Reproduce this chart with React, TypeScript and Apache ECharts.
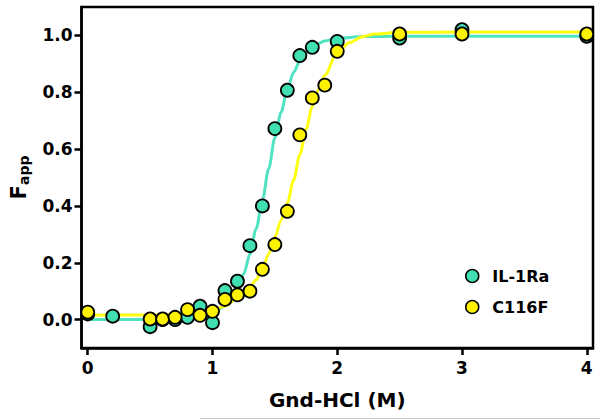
import React, { useEffect, useRef } from "react";
import * as echarts from "echarts";

// Measured points
const ilX = [0, 0.2, 0.5, 0.6, 0.7, 0.8, 0.9, 1.0, 1.1, 1.2, 1.3, 1.4, 1.5, 1.6, 1.7, 1.8, 2.0, 2.5, 3.0, 4.0];
const ilY = [0.02, 0.012, -0.025, 0.0, 0.0, 0.008, 0.047, -0.011, 0.102, 0.135, 0.26, 0.40, 0.672, 0.807, 0.929, 0.958, 0.979, 0.991, 1.02, 0.997];

const cX = [0, 0.5, 0.6, 0.7, 0.8, 0.9, 1.0, 1.1, 1.2, 1.3, 1.4, 1.5, 1.6, 1.7, 1.8, 1.9, 2.0, 2.5, 3.0, 4.0];
const cY = [0.026, 0.002, 0.002, 0.008, 0.035, 0.015, 0.029, 0.071, 0.087, 0.10, 0.177, 0.264, 0.381, 0.65, 0.78, 0.825, 0.944, 1.005, 1.005, 1.005];

// Fitted curves
const ilFitX = [0, 0.5, 0.8, 0.9, 1.0, 1.1, 1.2, 1.25, 1.3, 1.35, 1.4, 1.45, 1.5, 1.55, 1.6, 1.65, 1.7, 1.8, 1.9, 2.0, 2.2, 2.5, 4.0];
const ilFitY = [0.0, 0.0, 0.002, 0.006, 0.02, 0.048, 0.11, 0.16, 0.23, 0.32, 0.42, 0.53, 0.64, 0.73, 0.81, 0.87, 0.91, 0.96, 0.98, 0.99, 0.996, 0.997, 0.997];

const cFitX = [0, 0.5, 0.8, 0.9, 1.0, 1.1, 1.2, 1.3, 1.35, 1.4, 1.45, 1.5, 1.55, 1.6, 1.65, 1.7, 1.75, 1.8, 1.85, 1.9, 2.0, 2.1, 2.2, 2.3, 2.5, 3.0, 4.0];
const cFitY = [0.015, 0.016, 0.02, 0.025, 0.033, 0.048, 0.075, 0.115, 0.14, 0.18, 0.23, 0.29, 0.35, 0.41, 0.49, 0.58, 0.67, 0.75, 0.81, 0.86, 0.94, 0.975, 0.995, 1.005, 1.011, 1.012, 1.012];

const xTicks = [0, 1, 2, 3, 4];
const yTicks = [0, 0.2, 0.4, 0.6, 0.8, 1.0];
const seriesNames = ["IL-1Ra", "C116F"];

const FONT = "DejaVu Sans";
const TEAL_FILL = "#40E0B2";
const TEAL_LINE = "#4FE3C2";
const YEL_FILL = "#FFF200";
const YEL_LINE = "#FFFF10";

const zip = (xs: number[], ys: number[]) => xs.map((x, i) => [x, ys[i]]);

export default function App() {
  const ref = useRef<HTMLDivElement>(null);
  useEffect(() => {
    if (!ref.current) return;
    const chart = echarts.init(ref.current, null, { renderer: "svg" });
    const axisLine = { show: true, onZero: false, lineStyle: { color: "#000", width: 2.5 } };
    const tickLabel = { color: "#000", fontFamily: FONT, fontWeight: "bold", fontSize: 17 };
    chart.setOption({
      animation: false,
      backgroundColor: "#fff",
      grid: {
        left: 81, top: 7, right: 7, bottom: 71,
        show: true, borderColor: "#000", borderWidth: 2.5, backgroundColor: "transparent",
      },
      xAxis: {
        type: "value", min: -0.05, max: 4.05,
        splitLine: { show: false },
        axisLine,
        axisTick: { show: true, length: 7, lineStyle: { color: "#000", width: 2.5 }, customValues: xTicks },
        axisLabel: { ...tickLabel, margin: 11, customValues: xTicks, formatter: (v: number) => String(v) },
        name: "Gnd-HCl (M)", nameLocation: "middle", nameGap: 42,
        nameTextStyle: { color: "#000", fontFamily: FONT, fontWeight: "bold", fontSize: 20 },
      },
      yAxis: {
        type: "value", min: -0.1, max: 1.1,
        splitLine: { show: false },
        axisLine,
        axisTick: { show: true, length: 7, lineStyle: { color: "#000", width: 2.5 }, customValues: yTicks },
        axisLabel: { ...tickLabel, margin: 9, customValues: yTicks, formatter: (v: number) => v.toFixed(1) },
        name: "{F|F}{s|app}", nameLocation: "middle", nameGap: 50, nameRotate: 90,
        nameTextStyle: {
          color: "#000", fontFamily: FONT, fontWeight: "bold",
          rich: {
            F: { fontSize: 21, fontFamily: FONT, fontWeight: "bold", color: "#000", lineHeight: 26 },
            s: { fontSize: 14, fontFamily: FONT, fontWeight: "bold", color: "#000", padding: [10, 0, 0, 0] },
          },
        },
      },
      legend: {
        data: seriesNames,
        orient: "vertical",
        left: 465, top: 268, padding: 0,
        itemWidth: 30, itemHeight: 13, itemGap: 15,
        icon: "circle",
        itemStyle: { borderWidth: 1.5, borderColor: "#000" },
        textStyle: { color: "#000", fontFamily: FONT, fontWeight: "bold", fontSize: 16, lineHeight: 13 },
      },
      graphic: [
        { type: "line", shape: { x1: 200, y1: 418.5, x2: 600, y2: 418.5 }, style: { stroke: "#c4c4c4", lineWidth: 1 }, z: 100 },
      ],
      series: [
        {
          name: "IL-1Ra fit", type: "line", data: zip(ilFitX, ilFitY), showSymbol: false, symbol: "none",
          smooth: 0.3, smoothMonotone: "x", lineStyle: { color: TEAL_LINE, width: 3 }, z: 2, silent: true,
        },
        {
          name: "C116F fit", type: "line", data: zip(cFitX, cFitY), showSymbol: false, symbol: "none",
          smooth: 0.3, smoothMonotone: "x", lineStyle: { color: YEL_LINE, width: 3 }, z: 2, silent: true,
        },
        {
          name: seriesNames[0], type: "scatter", data: zip(ilX, ilY), symbol: "circle", symbolSize: 13,
          itemStyle: { color: TEAL_FILL, borderColor: "#000", borderWidth: 1.8, opacity: 1 }, z: 3,
        },
        {
          name: seriesNames[1], type: "scatter", data: zip(cX, cY), symbol: "circle", symbolSize: 13,
          itemStyle: { color: YEL_FILL, borderColor: "#000", borderWidth: 1.8, opacity: 1 }, z: 4,
        },
      ],
    });
    return () => chart.dispose();
  }, []);
  return (
    <div
      ref={ref}
      style={{ position: "fixed", left: 0, top: 0, width: 600, height: 419, background: "#fff" }}
    />
  );
}
